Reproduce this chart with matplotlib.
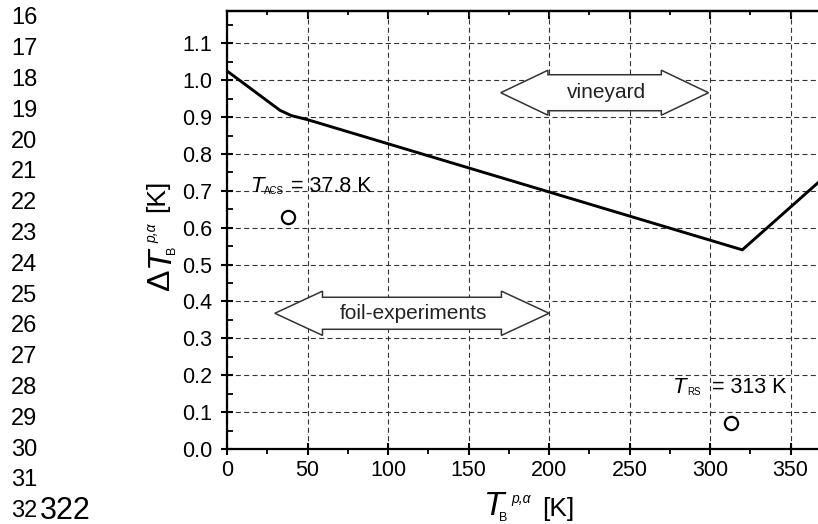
import matplotlib
matplotlib.use('Agg')
import matplotlib.pyplot as plt
import matplotlib.patches as patches
from matplotlib.ticker import MultipleLocator
from matplotlib.transforms import IdentityTransform

plt.rcParams['font.family'] = ['Liberation Sans', 'DejaVu Sans']

W, H = 818, 524

# curve
curve_T = [0, 33, 40, 50, 320, 367]
curve_dT = [1.025, 0.918, 0.904, 0.893, 0.540, 0.722]

# the two single points
acs_T, acs_dT = [37.8], [0.63]
rs_T, rs_dT = [313], [0.07]

x_ticks = [0, 50, 100, 150, 200, 250, 300, 350]
y_ticks = [0.0, 0.1, 0.2, 0.3, 0.4, 0.5, 0.6, 0.7, 0.8, 0.9, 1.0, 1.1]

# page line numbers down the left margin
line_numbers = [str(n) for n in range(16, 33)]

# range arrows: left tip, right tip, centre, label
vineyard = (170, 299, 0.966, 'vineyard')
foil = (29.7, 200, 0.368, 'foil-experiments')

fig = plt.figure(figsize=(W / 100, H / 100), dpi=100)
ax = fig.add_axes([227 / W, (H - 449) / H, (W - 227) / W, (449 - 11) / H])
ax.set_xlim(0, 367)
ax.set_ylim(0, 1.1876)

ax.set_xticks(x_ticks)
ax.set_yticks(y_ticks)
ax.set_yticklabels(['%.1f' % v for v in y_ticks])
ax.xaxis.set_minor_locator(MultipleLocator(25))
ax.yaxis.set_minor_locator(MultipleLocator(0.05))

ax.grid(True, which='major', color='#333333', lw=0.8, ls=(0, (4.5, 3)), zorder=0)
ax.set_axisbelow(True)

for s in ['left', 'bottom', 'top']:
    ax.spines[s].set_linewidth(1.6)
ax.spines['right'].set_visible(False)

ax.tick_params(axis='both', which='major', direction='inout', length=9, width=1.5,
               labelsize=15.5, colors='black')
ax.tick_params(axis='x', which='major', pad=3.5)
ax.tick_params(axis='y', which='major', pad=6)
ax.tick_params(axis='y', which='minor', direction='in', length=4, width=1.3)
ax.tick_params(axis='x', which='minor', direction='out', length=3.5, width=1.3)

top = ax.secondary_xaxis('top')
top.set_xticks(x_ticks)
top.xaxis.set_minor_locator(MultipleLocator(25))
top.tick_params(which='major', direction='in', length=6, width=1.5, labeltop=False)
top.tick_params(which='minor', direction='in', length=3, width=1.3)
top.spines['top'].set_linewidth(1.6)

ax.plot(curve_T, curve_dT, color='black', lw=2.1, zorder=2)
ax.plot(acs_T, acs_dT, 'o', ms=9.5, mfc='none', mec='black', mew=1.6, zorder=3)
ax.plot(rs_T, rs_dT, 'o', ms=9.5, mfc='none', mec='black', mew=1.6, zorder=3)


def double_arrow(spec, body, head, hlen):
    x0, x1, yc, label = spec
    pts = [(x0, yc), (x0 + hlen, yc + head), (x0 + hlen, yc + body),
           (x1 - hlen, yc + body), (x1 - hlen, yc + head), (x1, yc),
           (x1 - hlen, yc - head), (x1 - hlen, yc - body),
           (x0 + hlen, yc - body), (x0 + hlen, yc - head)]
    ax.add_patch(patches.Polygon(pts, closed=True, fc='white', ec='#333333',
                                 lw=1.1, zorder=3))
    ax.text((x0 + x1) / 2 + 1, yc, label, ha='center', va='center',
            fontsize=15, color='#222222', zorder=4)


double_arrow(vineyard, 0.0488, 0.061, 29.3)
double_arrow(foil, 0.0434, 0.060, 29.6)

ident = IdentityTransform()


def ptext(x, y, s, size, style='normal', rot=0, **kw):
    # x, y are pixels measured from the top-left corner
    fig.text(x, H - y, s, fontsize=size, style=style, rotation=rot,
             rotation_mode='anchor', ha='left', va='baseline',
             transform=ident, **kw)


# annotations next to the points
ptext(251, 192, 'T', 16, 'italic')
ptext(264, 194, 'ACS', 7)
ptext(291, 192, '= 37.8 K', 15.5)
ptext(673, 393, 'T', 16, 'italic')
ptext(687, 395, 'RS', 7)
ptext(712, 393, '= 313 K', 15.5)

# x label
ptext(484, 515, 'T', 24, 'italic')
ptext(499, 521, 'B', 9)
ptext(511, 503, 'p,\u03b1', 10, 'italic')
ptext(542, 516, '[K]', 19)

# y label (rotated)
ptext(169, 290, '\u0394', 23, rot=90)
ptext(169, 267, 'T', 24, 'italic', rot=90)
ptext(175, 254, 'B', 9, rot=90)
ptext(156, 243, 'p,\u03b1', 10, 'italic', rot=90)
ptext(164, 212, '[K]', 19, rot=90)

# page line numbers
for i, s in enumerate(line_numbers):
    ptext(11, 24.5 + 30.8 * i, s, 17)
ptext(40, 519, '322', 22)

fig.savefig('out.png', dpi=100)
